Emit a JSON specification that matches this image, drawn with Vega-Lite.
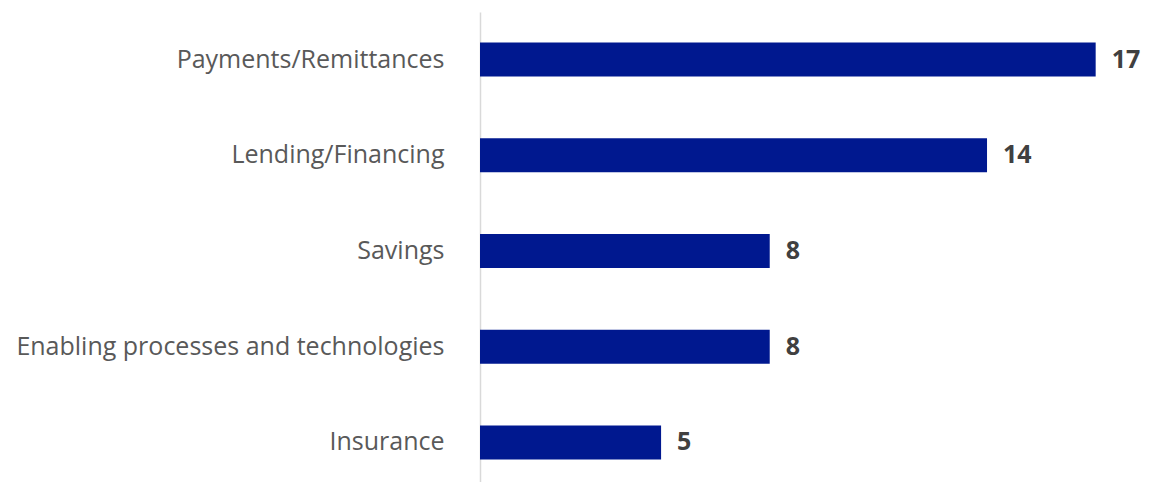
{
  "$schema": "https://vega.github.io/schema/vega-lite/v6.json",
  "autosize": "none",
  "width": 670,
  "height": 478,
  "padding": {"left": 480, "top": 12, "right": 0, "bottom": 0},
  "background": "white",
  "config": {"view": {"stroke": null}},
  "data": {"values": [
    {"category": "Payments/Remittances", "count": 17},
    {"category": "Lending/Financing", "count": 14},
    {"category": "Savings", "count": 8},
    {"category": "Enabling processes and technologies", "count": 8},
    {"category": "Insurance", "count": 5}
  ]},
  "encoding": {
    "y": {"field": "category", "type": "nominal", "sort": null,
      "scale": {"paddingInner": 0.645, "paddingOuter": 0.32},
      "axis": {"title": null, "ticks": false, "domainColor": "#d9d9d9", "domainWidth": 1.5,
        "labelFont": "Open Sans", "labelFontSize": 25, "labelColor": "#595959",
        "labelPadding": 36, "labelLimit": 600}},
    "x": {"field": "count", "type": "quantitative", "scale": {"domain": [0, 18.5]}, "axis": null}
  },
  "layer": [
    {"mark": {"type": "bar", "color": "#00188f"}},
    {"mark": {"type": "text", "align": "left", "dx": 16, "font": "Open Sans", "fontSize": 25, "fontWeight": "bold", "color": "#404040"},
     "encoding": {"text": {"field": "count", "type": "quantitative"}}}
  ]
}
